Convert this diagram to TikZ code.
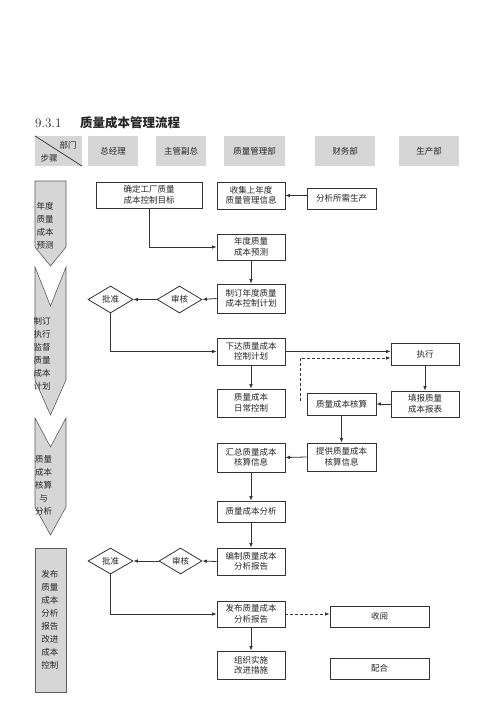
\documentclass[tikz,border=0pt]{standalone}
\usepackage{fontspec}
\newfontfamily\cjk{Noto Sans CJK SC}
\usetikzlibrary{arrows.meta,shapes.geometric,calc}
\definecolor{hdr}{HTML}{D6D6D6}
\definecolor{ln}{HTML}{333333}
\begin{document}
\begin{tikzpicture}[x=1pt,y=-1pt,
  every node/.style={font=\cjk\fontsize{8.5}{10.5}\selectfont, text=black!85},
  box/.style={draw=ln, line width=0.8pt, fill=white, align=center, inner sep=0pt},
  dia/.style={draw=ln, line width=0.8pt, diamond, inner sep=0pt},
  hd/.style={fill=hdr, inner sep=0pt, minimum height=30pt},
  stg/.style={fill=hdr, draw=ln!80, line width=0.6pt},
  stgtext/.style={align=center, inner sep=0pt, font=\cjk\fontsize{8.5}{13}\selectfont},
  arr/.style={draw=ln, line width=0.8pt, -{Latex[length=4.5pt,width=3.6pt]}},
  dsh/.style={dash pattern=on 3pt off 2pt}
]
\useasboundingbox (0,0) rectangle (500,707);

% title
\node[anchor=base west, inner sep=0pt, font=\fontsize{13}{13}\selectfont] (tnum) at (35,127) {9.3.1};
\node[anchor=base west, inner sep=0pt, font=\cjk\bfseries\fontsize{12.5}{13}\selectfont] (ttext) at (80,127) {质量成本管理流程};

% header
\node[hd, minimum width=47pt] (h0) at (58.5,151) {};
\draw[ln, line width=0.7pt] (h0.north west) -- (h0.south east);
\node[inner sep=0pt] (bumen) at (68,145) {部门};
\node[inner sep=0pt] (buzhou) at (49,158) {步骤};
\node[hd, minimum width=50pt] (h1) at (113,151) {总经理};
\node[hd, minimum width=50pt] (h2) at (181,151) {主管副总};
\node[hd, minimum width=61pt] (h3) at (254.5,151) {质量管理部};
\node[hd, minimum width=60pt] (h4) at (345,151) {财务部};
\node[hd, minimum width=60pt] (h5) at (429,151) {生产部};

% stages
\draw[stg] (35,181) -- (66,181) -- (66,247) -- (50.5,266) -- (35,247) -- cycle;
\draw[stg] (35,267) -- (50.5,306) -- (66,267) -- (66,380) -- (50.5,415) -- (35,380) -- cycle;
\draw[stg] (35,418) -- (50.5,447) -- (66,418) -- (66,507) -- (50.5,535) -- (35,507) -- cycle;
\draw[stg] (35,548) rectangle (66,692);
\node[stgtext] (s1) at (45,226) {年度\\质量\\成本\\预测};
\node[stgtext] (s2) at (42,354) {制订\\执行\\监督\\质量\\成本\\计划};
\node[stgtext] (s3) at (43.5,485.5) {质量\\成本\\核算\\与\\分析};
\node[stgtext] (s4) at (50,620) {发布\\质量\\成本\\分析\\报告\\改进\\成本\\控制};

% boxes
\node[box, minimum width=106pt, minimum height=26pt] (b1) at (149,195) {确定工厂质量\\成本控制目标};
\node[box, minimum width=68pt, minimum height=27pt] (b2) at (251,195.5) {收集上年度\\质量管理信息};
\node[box, minimum width=69pt, minimum height=21pt] (b3) at (341.5,198.5) {分析所需生产};
\node[box, minimum width=68pt, minimum height=26pt] (b4) at (251,247) {年度质量\\成本预测};
\node[box, minimum width=68pt, minimum height=29pt] (b5) at (251,298.5) {制订年度质量\\成本控制计划};
\node[dia, minimum width=45pt, minimum height=27pt] (sh1) at (179.5,299.5) {审核};
\node[dia, minimum width=45pt, minimum height=27pt] (pz1) at (110.5,299.5) {批准};
\node[box, minimum width=68pt, minimum height=27pt] (b6) at (251,351.5) {下达质量成本\\控制计划};
\node[box, minimum width=68pt, minimum height=22pt] (zx) at (425,354) {执行};
\node[box, minimum width=68pt, minimum height=28pt] (b7) at (251,403) {质量成本\\日常控制};
\node[box, minimum width=68pt, minimum height=26pt] (tb) at (425,404) {填报质量\\成本报表};
\node[box, minimum width=69pt, minimum height=22pt] (hs) at (341.5,404) {质量成本核算};
\coordinate (d1) at (300,401);
\node[box, minimum width=69pt, minimum height=28pt] (tg) at (341.5,457) {提供质量成本\\核算信息};
\node[box, minimum width=68pt, minimum height=29pt] (hz) at (251,457.5) {汇总质量成本\\核算信息};
\node[box, minimum width=68pt, minimum height=21pt] (fx) at (251,511.5) {质量成本分析};
\node[box, minimum width=68pt, minimum height=27pt] (bianzhi) at (251,561.5) {编制质量成本\\分析报告};
\node[dia, minimum width=43pt, minimum height=26pt] (sh2) at (180.5,561) {审核};
\node[dia, minimum width=45pt, minimum height=26pt] (pz2) at (110.5,561) {批准};
\node[box, minimum width=68pt, minimum height=26pt] (fb) at (251,614) {发布质量成本\\分析报告};
\node[box, minimum width=99pt, minimum height=21pt] (sy) at (379.5,616.5) {收阅};
\node[box, minimum width=68pt, minimum height=28pt] (zz) at (251,665) {组织实施\\改进措施};
\node[box, minimum width=99pt, minimum height=21pt] (ph) at (379.5,668.5) {配合};

% connectors
\draw[arr] (b2.east -| b3.west) -- (b2.east);
\draw[arr] (b1.south) |- (b4.west);
\draw[arr] (b4.south) -- (b5.north);
\draw[arr] (b5.west) -- (sh1.east);
\draw[arr] (sh1.west) -- (pz1.east);
\draw[arr] (pz1.south) |- (b6.west);
\draw[arr] (b6.east) -- (b6.east -| zx.west);
\draw[arr, dsh] (d1) |- ($(zx.west)+(0,4)$);
\draw[arr] (b6.south) -- (b7.north);
\draw[arr] (zx.south) -- (tb.north);
\draw[arr] (tb.west) -- (hs.east);
\draw[arr] (hs.south) -- (tg.north);
\draw[arr] (tg.west) -- (hz.east);
\draw[arr] (hz.south) -- (fx.north);
\draw[arr] (fx.south) -- (bianzhi.north);
\draw[arr] (bianzhi.west) -- (sh2.east);
\draw[arr] (sh2.west) -- (pz2.east);
\draw[arr] (pz2.south) |- (fb.west);
\draw[arr, dsh] (fb.east) -- (fb.east -| sy.west);
\draw[arr] (fb.south) -- (zz.north);
\end{tikzpicture}
\end{document}
